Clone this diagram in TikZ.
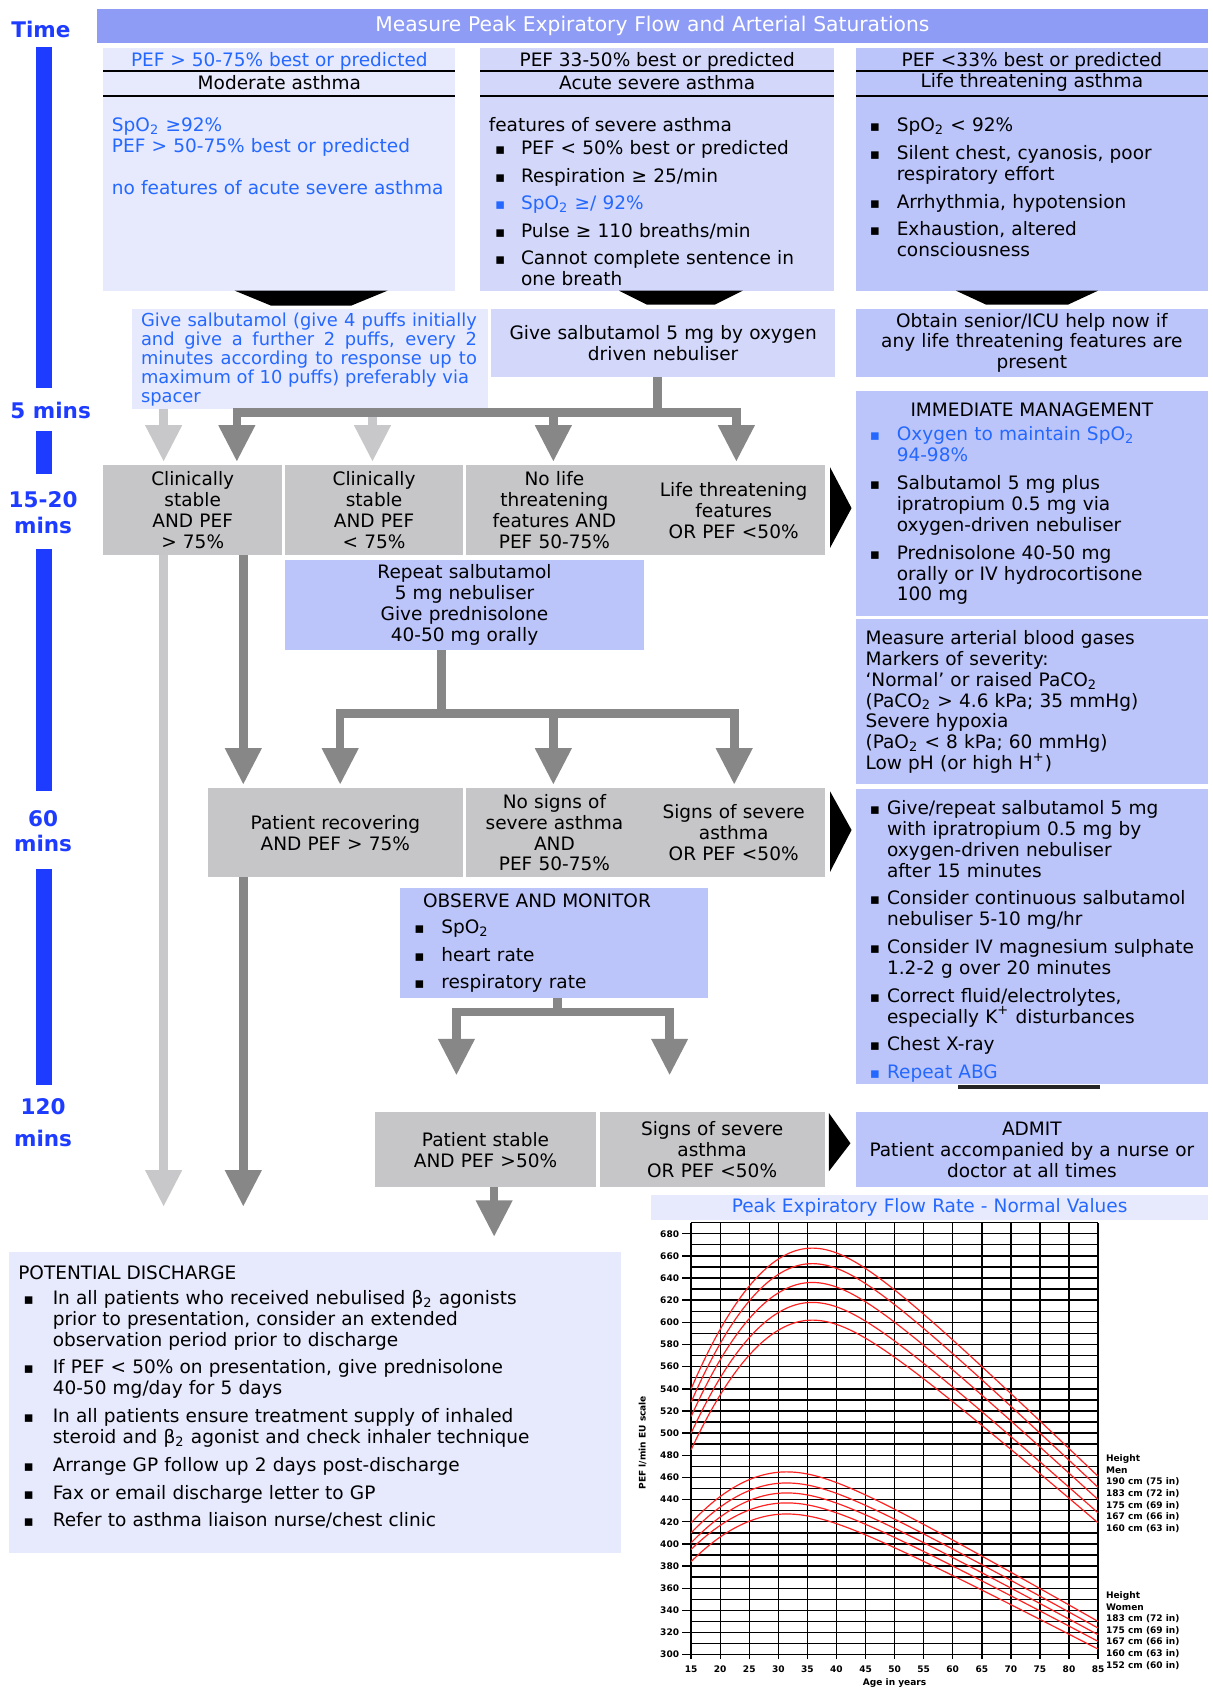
\documentclass[tikz,border=0pt]{standalone}
\usepackage{fontspec}
\setmainfont{DejaVu Sans}
\usetikzlibrary{arrows.meta}

\definecolor{hdrblue}{HTML}{8E9CF5}
\definecolor{paleA}{HTML}{E7E9FC}
\definecolor{paleB}{HTML}{D3D8FA}
\definecolor{paleC}{HTML}{BCC5FA}
\definecolor{greybox}{HTML}{C6C6C8}
\definecolor{darkarrow}{HTML}{878787}
\definecolor{lightarrow}{HTML}{C8C8CA}
\definecolor{txtblue}{HTML}{2468FF}
\definecolor{timeblue}{HTML}{1E3CFF}
\definecolor{curvered}{HTML}{FF2020}

\newcommand\bodyfont{\fontsize{8.6}{9.7}\selectfont}
\newcommand\givefont{\fontsize{8.3}{8.9}\selectfont}
\newcommand\hdrfont{\fontsize{9.4}{11}\selectfont}
\newcommand\timefont{\fontsize{10}{12}\selectfont\bfseries}
\newcommand\chartfont{\fontsize{4.2}{5.4}\selectfont\bfseries}

% bullet item with hanging indent (lines inside an item are broken with \newline)
\newcommand\itm[2][12pt]{\noindent\hangindent=#1\hangafter=1\makebox[#1][l]{\fontsize{7}{7}\selectfont ▪}#2\par}

% filled panel given by its corners (x1,y1) (x2,y2)
\newcommand\panel[7][]{%
  \pgfmathsetmacro\pnw{(#5-#3)*0.5}%
  \pgfmathsetmacro\pnh{(#6-#4)*0.5}%
  \pgfmathsetmacro\pnt{(#5-#3)*0.5-6}%
  \pgfmathsetmacro\pnx{(#3+#5)/2}%
  \pgfmathsetmacro\pny{(#4+#6)/2}%
  \node[panelbase,minimum width=\pnw pt,minimum height=\pnh pt,text width=\pnt pt,#1] (#2) at (\pnx,\pny) {#7};}

% normal-value curve: peak, age at peak, value at 15, value at 85
\newcommand\pefcurve[4]{%
  \pgfmathsetmacro\ka{(#1-#3)/((#2-15)^2)}%
  \pgfmathsetmacro\kb{(#1-#4)/(sqrt((85-#2)^2+100)-10)}%
  \draw[pefline] plot[domain=15:85,samples=71,smooth]
    (\x-15,{((\x<#2) ? (#1-\ka*(\x-#2)^2) : (#1-\kb*(sqrt((\x-#2)^2+100)-10)))-680});}

\tikzset{
  panelbase/.style={inner sep=0pt,outer sep=0pt,align=center,font=\bodyfont},
  txt/.style={inner sep=0pt,outer sep=0pt,anchor=north west,align=left,font=\bodyfont},
  txtc/.style={inner sep=0pt,outer sep=0pt,font=\bodyfont},
  rule/.style={line width=1.1pt,black},
  dkline/.style={draw=darkarrow,line width=4pt},
  dkarr/.style={draw=darkarrow,line width=4pt,-{Triangle[width=16pt,length=17pt]},shorten >=1.5pt},
  ltarr/.style={draw=lightarrow,line width=4pt,-{Triangle[width=16pt,length=17pt]},shorten >=1.5pt},
  timelab/.style={font=\timefont,text=timeblue,inner sep=0pt,align=center},
  gridline/.style={line width=0.65pt,black},
  pefline/.style={draw=curvered,line width=0.55pt},
  chartlab/.style={font=\chartfont,inner sep=0pt},
}

\begin{document}
\begin{tikzpicture}[x=0.5pt,y=-0.5pt]
\useasboundingbox (0,0) rectangle (1126,1568);
\fill[white] (0,0) rectangle (1126,1568);

% ---------- time axis ----------
\node[timelab] (tTime) at (38,27) {Time};
\fill[timeblue] (33,44) rectangle (48,360);
\node[timelab] (t5) at (47,381) {5 mins};
\fill[timeblue] (33,400) rectangle (48,440);
\node[timelab] (t15) at (40,476) {15-20\\mins};
\fill[timeblue] (33,510) rectangle (48,735);
\node[timelab] (t60) at (40,772) {60\\mins};
\fill[timeblue] (33,807) rectangle (48,1008);
\node[timelab] (t120) at (40,1043) {120\\[3pt]mins};

% ---------- header ----------
\panel[fill=hdrblue,font=\hdrfont,text=white]{hdr}{90}{8}{1122}{40}{Measure Peak Expiratory Flow and Arterial Saturations}

% ---------- severity columns ----------
\panel[fill=paleA]{colA}{96}{45}{423}{270}{}
\panel[fill=paleB]{colB}{446}{45}{775}{270}{}
\panel[fill=paleC]{colC}{795}{45}{1122}{270}{}

\node[txtc,text=txtblue] (colAhd) at (259.5,57) {PEF > 50-75\% best or predicted};
\node[txtc] (colAsub) at (259.5,77) {Moderate asthma};
\node[txtc] (colBhd) at (610.5,57) {PEF 33-50\% best or predicted};
\node[txtc] (colBsub) at (610.5,77) {Acute severe asthma};
\node[txtc] (colChd) at (958.5,57) {PEF <33\% best or predicted};
\node[txtc] (colCsub) at (958.5,77) {Life threatening asthma};
\foreach \xa/\xb in {96/423,446/775,795/1122}{
  \draw[rule] (\xa,66) -- (\xb,66);
  \draw[rule] (\xa,89) -- (\xb,89);
}

\node[txt,text=txtblue,text width=155pt] (bodyA) at (104,109.5)
  {SpO\textsubscript{2} ≥92\%\\PEF > 50-75\% best or predicted\\[10pt]no features of acute severe asthma};

\node[txt] (bodyBhd) at (454,109.5) {features of severe asthma};
\node[txt,text width=155pt] (bodyB) at (460,130.5) {\setlength\parskip{3.1pt}%
  \itm{PEF < 50\% best or predicted}%
  \itm{Respiration ≥ 25/min}%
  {\color{txtblue}\itm{SpO\textsubscript{2} ≥/ 92\%}}%
  \itm{Pulse ≥ 110 breaths/min}%
  \itm{Cannot complete sentence in\newline one breath}};

\node[txt,text width=155pt] (bodyC) at (808,109.5) {\setlength\parskip{3.2pt}%
  \itm[12.5pt]{SpO\textsubscript{2} < 92\%}%
  \itm[12.5pt]{Silent chest, cyanosis, poor\newline respiratory effort}%
  \itm[12.5pt]{Arrhythmia, hypotension}%
  \itm[12.5pt]{Exhaustion, altered\newline consciousness}};

% downward chevrons under the columns
\fill[black] (218,270) -- (360,270) -- (326,284) -- (252,284) -- cycle;
\fill[black] (575,270) -- (690,270) -- (664,283) -- (601,283) -- cycle;
\fill[black] (888,270) -- (1020,270) -- (992,283) -- (916,283) -- cycle;

% ---------- first treatment row ----------
\panel[fill=paleA]{giveA}{123}{287}{453}{380}{}
\node[txt,font=\givefont,text=txtblue,text width=156pt,align=justify] (giveAtxt) at (131,290.5)
  {Give salbutamol (give 4 puffs initially\linebreak and give a further 2 puffs, every 2\linebreak minutes according to response up to\linebreak maximum of 10 puffs) preferably via\\spacer};
\panel[fill=paleB]{giveB}{456}{287}{776}{350}{Give salbutamol 5 mg by oxygen\\driven nebuliser}
\panel[fill=paleC]{giveC}{795}{287}{1122}{350}{Obtain senior/ICU help now if\\any life threatening features are\\present}

% ---------- 15-20 minute assessment ----------
\panel[fill=greybox]{sA}{96}{432}{262}{516}{Clinically\\stable\\AND PEF\\> 75\%}
\panel[fill=greybox]{sB}{265}{432}{430}{516}{Clinically\\stable\\AND PEF\\< 75\%}
\panel[fill=greybox]{sC}{433}{432}{597}{516}{No life\\threatening\\features AND\\PEF 50-75\%}
\panel[fill=greybox]{sD}{597}{432}{766}{516}{Life threatening\\features\\OR PEF <50\%}
\fill[black] (771,434) -- (791,472) -- (771,509) -- cycle;

\panel[fill=paleC]{rep}{265}{520}{598}{604}{Repeat salbutamol\\5 mg nebuliser\\Give prednisolone\\40-50 mg orally}

% ---------- 60 minute assessment ----------
\panel[fill=greybox]{mA}{193}{732}{430}{815}{Patient recovering\\AND PEF > 75\%}
\panel[fill=greybox]{mB}{433}{732}{597}{815}{No signs of\\severe asthma\\AND\\PEF 50-75\%}
\panel[fill=greybox]{mC}{597}{732}{766}{815}{Signs of severe\\asthma\\OR PEF <50\%}
\fill[black] (771,735) -- (791,771) -- (771,810) -- cycle;

\panel[fill=paleC]{obs}{372}{825}{658}{927}{}
\node[txt] (obsHd) at (393,830.5) {OBSERVE AND MONITOR};
\node[txt,text width=120pt] (obsList) at (385,854.5) {\setlength\parskip{3.1pt}%
  \itm[12.5pt]{SpO\textsubscript{2}}%
  \itm[12.5pt]{heart rate}%
  \itm[12.5pt]{respiratory rate}};

% ---------- 120 minute assessment ----------
\panel[fill=greybox]{lA}{348}{1033}{554}{1103}{Patient stable\\AND PEF >50\%}
\panel[fill=greybox]{lB}{557}{1033}{766}{1103}{Signs of severe\\asthma\\OR PEF <50\%}
\fill[black] (770,1034) -- (790,1062) -- (770,1088) -- cycle;

% ---------- right-hand management column ----------
\panel[fill=paleC]{imm}{795}{363}{1122}{572}{}
\node[txtc] (immHd) at (958.5,381) {IMMEDIATE MANAGEMENT};
\node[txt,text width=150pt] (immList) at (808,396.5) {\setlength\parskip{3.2pt}%
  {\color{txtblue}\itm[12.5pt]{Oxygen to maintain SpO\textsubscript{2}\newline 94-98\%}}%
  \itm[12.5pt]{Salbutamol 5 mg plus\newline ipratropium 0.5 mg via\newline oxygen-driven nebuliser}%
  \itm[12.5pt]{Prednisolone 40-50 mg\newline orally or IV hydrocortisone\newline 100 mg}};

\panel[fill=paleC]{abg}{795}{575}{1122}{728}{}
\node[txt,text width=155pt] (abgTxt) at (804,585.5)
  {Measure arterial blood gases\\Markers of severity:\\‘Normal’ or raised PaCO\textsubscript{2}\\(PaCO\textsubscript{2} > 4.6 kPa; 35 mmHg)\\Severe hypoxia\\(PaO\textsubscript{2} < 8 kPa; 60 mmHg)\\Low pH (or high H\textsuperscript{+})};

\panel[fill=paleC]{trt}{795}{733}{1122}{1007}{}
\node[txt,text width=158pt] (trtList) at (808,743.5) {\setlength\parskip{3.2pt}%
  \itm[8pt]{Give/repeat salbutamol 5 mg\newline with ipratropium 0.5 mg by\newline oxygen-driven nebuliser\newline after 15 minutes}%
  \itm[8pt]{Consider continuous salbutamol\newline nebuliser 5-10 mg/hr}%
  \itm[8pt]{Consider IV magnesium sulphate\newline 1.2-2 g over 20 minutes}%
  \itm[8pt]{Correct fluid/electrolytes,\newline especially K\textsuperscript{+} disturbances}%
  \itm[8pt]{Chest X-ray}%
  {\color{txtblue}\itm[8pt]{Repeat ABG}}};
\fill[black!85] (890,1008) rectangle (1022,1012);

\panel[fill=paleC]{admit}{795}{1033}{1122}{1103}{ADMIT\\Patient accompanied by a nurse or\\doctor at all times}

% ---------- discharge ----------
\panel[fill=paleA]{dis}{8}{1163}{577}{1443}{}
\node[txt] (disHd) at (17,1175.5) {POTENTIAL DISCHARGE};
\node[txt,text width=270pt] (disList) at (22,1198.5) {\setlength\parskip{3.2pt}%
  \itm[13.5pt]{In all patients who received nebulised β\textsubscript{2} agonists\newline prior to presentation, consider an extended\newline observation period prior to discharge}%
  \itm[13.5pt]{If PEF < 50\% on presentation, give prednisolone\newline 40-50 mg/day for 5 days}%
  \itm[13.5pt]{In all patients ensure treatment supply of inhaled\newline steroid and β\textsubscript{2} agonist and check inhaler technique}%
  \itm[13.5pt]{Arrange GP follow up 2 days post-discharge}%
  \itm[13.5pt]{Fax or email discharge letter to GP}%
  \itm[13.5pt]{Refer to asthma liaison nurse/chest clinic}};

% ---------- connectors ----------
\coordinate (ax1) at (220,0);
\coordinate (ax2) at (514,0);
\coordinate (ax3) at (684,0);
\coordinate (lx1) at (152,0);
\coordinate (lx2) at (346,0);
\coordinate (dx1) at (226,0);
\coordinate (bx1) at (316,0);
\coordinate (bx3) at (682,0);
\coordinate (px1) at (459,0);
\coordinate (j1) at (611,383);
\coordinate (j2) at (410,663);
\coordinate (j3) at (518,940);
\coordinate (endL) at (152,1124);
\coordinate (endD) at (226,1124);
\coordinate (endO1) at (424,1002);
\coordinate (endO2) at (622,1002);
\coordinate (endP) at (459,1152);

% light arrows (inhaler route)
\draw[ltarr] (lx1 |- giveA.south) -- (lx1 |- sA.north);
\draw[ltarr] (lx2 |- giveA.south) -- (lx2 |- sB.north);
\draw[ltarr] (lx1 |- sA.south) -- (endL);

% nebuliser route
\draw[dkline] (j1 |- giveB.south) -- (j1);
\draw[dkarr] (j1) -| (ax1 |- sA.north);
\draw[dkarr] (j1) -| (ax3 |- sD.north);
\draw[dkarr] (ax2 |- j1) -- (ax2 |- sC.north);

\draw[dkarr] (dx1 |- sA.south) -- (dx1 |- mA.north);
\draw[dkarr] (dx1 |- mA.south) -- (endD);

\draw[dkline] (j2 |- rep.south) -- (j2);
\draw[dkarr] (j2) -| (bx1 |- mA.north);
\draw[dkarr] (j2) -| (bx3 |- mC.north);
\draw[dkarr] (ax2 |- j2) -- (ax2 |- mB.north);

\draw[dkline] (j3 |- obs.south) -- (j3);
\draw[dkarr] (j3) -| (endO1);
\draw[dkarr] (j3) -| (endO2);

\draw[dkarr] (px1 |- lA.south) -- (endP);

% ---------- PEF normal values chart ----------
\panel[fill=paleA,text=txtblue]{pefTitle}{605}{1110}{1122}{1133}{Peak Expiratory Flow Rate - Normal Values}

\begin{scope}[shift={(642,1146)},x=2.7pt,y=0.5145pt]
  \foreach \v in {300,310,...,690}{\draw[gridline] (0,\v-680) -- (70,\v-680);}
  \foreach \a in {15,20,...,85}{
    \draw[gridline] (\a-15,-384) -- (\a-15,10);
    \node[chartlab] (xl\a) at (\a-15,-393) {\a};
  }
  \foreach \v in {300,320,...,680}{
    \draw[gridline] (-1.5,\v-680) -- (0,\v-680);
    \node[chartlab,anchor=east] (yl\v) at (-2,\v-680) {\v};
  }
  % men
  \pefcurve{667}{35.8}{540}{461}
  \pefcurve{653}{35.8}{528}{451}
  \pefcurve{636}{35.8}{515}{440}
  \pefcurve{618}{35.8}{500}{428}
  \pefcurve{602}{35.8}{485}{419}
  % women
  \pefcurve{465}{31.4}{419}{330}
  \pefcurve{455}{31.4}{410}{324}
  \pefcurve{446}{31.4}{401}{318}
  \pefcurve{437}{31.4}{395}{312}
  \pefcurve{427}{31.4}{384}{305}
\end{scope}

\node[chartlab,rotate=90] (yTitle) at (597,1340) {PEF l/min EU scale};
\node[chartlab] (xTitle) at (831,1563) {Age in years};
\node[chartlab,anchor=north west,align=left] (legMen) at (1027,1351)
  {Height\\Men\\190 cm (75 in)\\183 cm (72 in)\\175 cm (69 in)\\167 cm (66 in)\\160 cm (63 in)};
\node[chartlab,anchor=north west,align=left] (legWomen) at (1027,1478)
  {Height\\Women\\183 cm (72 in)\\175 cm (69 in)\\167 cm (66 in)\\160 cm (63 in)\\152 cm (60 in)};
\end{tikzpicture}
\end{document}
